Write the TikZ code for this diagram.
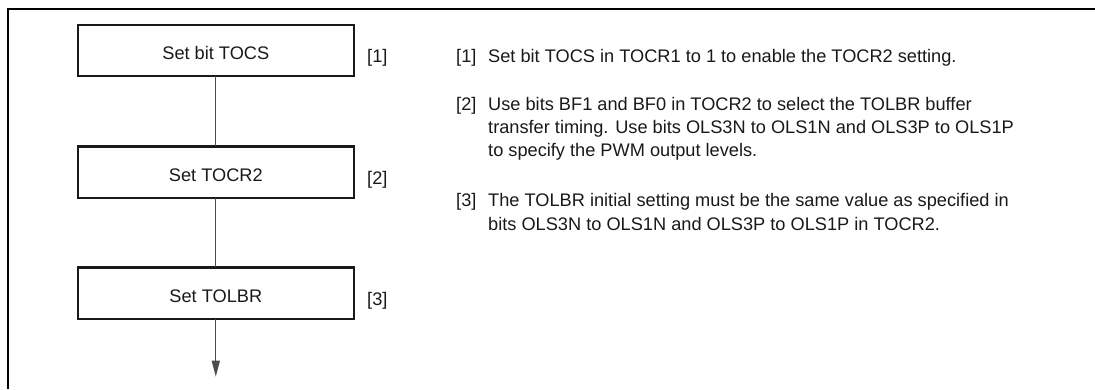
\documentclass[tikz,border=0pt]{standalone}
\usepackage{fontspec}
\setmainfont{Liberation Sans}
\usetikzlibrary{arrows.meta}
\tikzset{
  stepbox/.style={draw=black!90,line width=2.2pt,inner sep=0pt,outer sep=0pt,
    minimum width=276pt,minimum height=51.5pt,text height=18pt,text depth=0pt},
  tag/.style={inner sep=0pt,anchor=base west},
  note/.style={inner sep=0pt,anchor=base west},
  flow/.style={draw=black!70,line width=1.3pt},
}
\newcommand{\notefont}{\fontsize{18.2}{23.3}\selectfont}

\begin{document}
\begin{tikzpicture}[x=1pt,y=-1pt,font=\notefont,text=black!90,>={Triangle[length=16pt,width=8pt]}]
  \useasboundingbox (0,0) rectangle (1095,389);
  % marco
  \draw[line width=2.6pt] (1095,9)--(8,9)--(8,389);
  % cajas del flujo
  \node[stepbox] (tocs) at (215.8,50.5) {Set bit TOCS};
  \node[stepbox] (tocr) at (215.8,172.2) {Set TOCR2};
  \node[stepbox] (tolbr) at (215.8,293.2) {Set TOLBR};
  \coordinate (fin) at (215.8,376.7);
  % conectores
  \draw[flow] (tocs)--(tocr);
  \draw[flow] (tocr)--(tolbr);
  \draw[flow,->] (tolbr)--(fin);
  % etiquetas
  \node[tag] (t1) at (367,62.5) {[1]};
  \node[tag] (t2) at (367,184.2) {[2]};
  \node[tag] (t3) at (367,305.2) {[3]};
  % notas
  \node[note] (n1) at (456,62.7) {\begin{tabular}[t]{@{}p{32pt}@{}l@{}}
    [1] & Set bit TOCS in TOCR1 to 1 to enable the TOCR2 setting.
  \end{tabular}};
  \node[note] (n2) at (456,110) {\begin{tabular}[t]{@{}p{32pt}@{}l@{}}
    [2] & Use bits BF1 and BF0 in TOCR2 to select the TOLBR buffer\\
        & transfer timing. Use bits OLS3N to OLS1N and OLS3P to OLS1P\\
        & to specify the PWM output levels.
  \end{tabular}};
  \node[note] (n3) at (456,206.7) {\begin{tabular}[t]{@{}p{32pt}@{}l@{}}
    [3] & The TOLBR initial setting must be the same value as specified in\\
        & bits OLS3N to OLS1N and OLS3P to OLS1P in TOCR2.
  \end{tabular}};
\end{tikzpicture}
\end{document}
